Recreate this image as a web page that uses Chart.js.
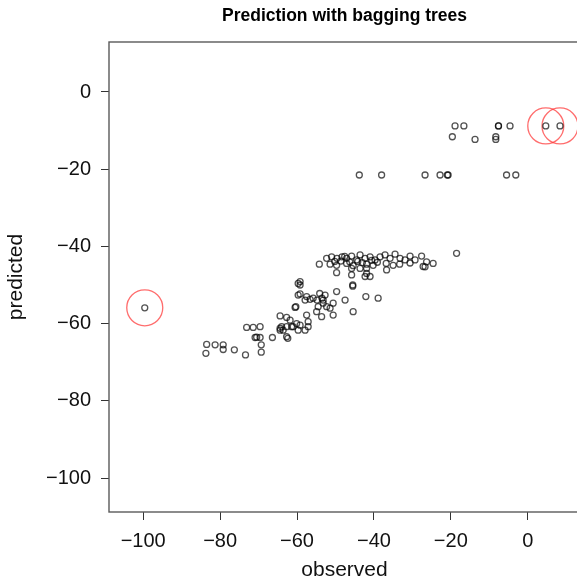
<!DOCTYPE html>
<html>
<head>
<meta charset="utf-8">
<script src="https://cdn.jsdelivr.net/npm/chart.js@4"></script>
<style>
  html, body { margin: 0; padding: 0; background: #fff; overflow: hidden; }
  #grafico { display: block; }
</style>
</head>
<body>
<canvas id="grafico" width="580" height="583"></canvas>
<script>
const observed = [
  -99.6,
  -83.5, -83.7, -81.3, -79.2, -79.2, -76.3, -73.4, -73.1, -71.4, -69.6, -70.9, -69.6, -70.5, -69.3, -69.3,
  -66.4, -64.4, -62.7, -64.0, -62.7, -61.4, -62.4, -64.4, -60.5, -59.7, -59.7, -61.0, -59.7,
  -59.2, -59.2, -59.2, -60.3, -57.9, -56.6, -54.8, -53.5, -52.7, -53.2, -54.5, -54.9, -53.6,
  -57.5, -57.1, -57.1, -57.9, -59.2, -60.1, -61.8, -64.4, -63.6, -62.7,
  -57.5, -55.8, -54.1, -53.2, -52.3, -50.6, -49.7, -47.5, -51.4, -50.6,
  -54.2, -52.3, -51.0, -49.6, -48.3, -47.1, -45.8, -44.5, -43.6, -42.3, -41.0, -39.7, -38.4, -37.1,
  -35.8, -34.5, -33.2, -31.9, -30.6, -29.3, -27.6, -26.3, -24.6,
  -51.4, -49.7, -47.1, -45.4, -41.9, -40.2, -36.8, -35.0, -33.3, -30.6, -27.2,
  -48.6, -46.3, -44.2, -43.0, -40.6, -39.1, -47.6, -50.2,
  -49.7, -45.8, -45.8, -43.6, -41.9, -41.9, -36.7, -42.3, -41.0, -26.7,
  -45.5, -45.5, -42.1, -38.9, -45.4, -18.5,
  -43.8, -38.0, -26.7, -22.8, -20.9, -20.7, -5.5, -3.1,
  -18.9, -16.6, -19.6, -13.7, -7.6, -7.6, -4.6, -8.3, -8.3, 4.7, 8.4
];
const predicted = [
  -55.9,
  -65.4, -67.7, -65.5, -65.5, -66.7, -66.8, -68.1, -61.0, -61.0, -60.8, -63.6, -63.6, -63.5, -65.5, -67.4,
  -63.6, -58.0, -58.4, -60.8, -60.8, -60.8, -63.8, -61.7, -55.8, -49.6, -52.6, -60.8, -61.7,
  -49.1, -50.0, -52.3, -55.6, -53.9, -53.7, -53.9, -53.4, -52.6, -54.7, -55.6, -56.9, -58.2,
  -57.8, -59.5, -60.8, -61.7, -60.4, -60.0, -59.1, -61.2, -61.7, -63.4,
  -53.0, -53.4, -52.2, -53.9, -55.6, -54.7, -51.7, -53.9, -56.0, -57.8,
  -44.6, -43.1, -42.7, -43.1, -42.7, -43.1, -42.5, -43.5, -42.2, -43.1, -42.7, -43.5, -42.7, -42.2,
  -43.1, -42.0, -43.1, -43.5, -42.5, -43.5, -42.5, -44.0, -44.4,
  -44.6, -44.9, -44.4, -45.0, -44.6, -44.9, -44.4, -44.9, -44.6, -44.3, -45.2,
  -43.8, -44.0, -43.9, -44.2, -43.6, -44.1, -42.6, -43.9,
  -46.8, -45.7, -47.4, -45.7, -45.7, -47.0, -46.1, -47.8, -47.8, -45.3,
  -50.0, -50.3, -53.0, -53.4, -56.9, -41.8,
  -21.5, -21.5, -21.5, -21.5, -21.5, -21.5, -21.5, -21.5,
  -8.8, -8.8, -11.6, -12.3, -8.8, -8.8, -8.8, -11.6, -12.3, -8.8, -8.8
];
// Pontos destacados em vermelho
const destaqueX = [-99.6, 4.7, 8.4];
const destaqueY = [-55.9, -8.8, -8.8];

const xTicks = [-100, -80, -60, -40, -20, 0];
const yTicks = [0, -20, -40, -60, -80, -100];

const fonte = "'Liberation Sans', Arial, Helvetica, sans-serif";
const menos = v => (v < 0 ? '\u2212' + Math.abs(v) : String(v));

// Moldura do painel
const moldura = {
  id: 'moldura',
  afterDraw(chart) {
    const { ctx, chartArea: a } = chart;
    ctx.save();
    ctx.strokeStyle = '#5a5a5a';
    ctx.lineWidth = 1.4;
    ctx.strokeRect(a.left, a.top, a.right - a.left, a.bottom - a.top);
    ctx.restore();
  }
};

const ctx = document.getElementById('grafico');
new Chart(ctx, {
  type: 'scatter',
  data: {
    datasets: [{
      label: 'dados',
      data: observed.map((x, i) => ({ x: x, y: predicted[i] })),
      pointStyle: 'circle',
      pointRadius: 3,
      borderWidth: 1.3,
      borderColor: 'rgba(0,0,0,0.68)',
      backgroundColor: 'rgba(0,0,0,0)'
    }, {
      label: 'destaque',
      data: destaqueX.map((x, i) => ({ x: x, y: destaqueY[i] })),
      pointStyle: 'circle',
      pointRadius: 18,
      borderWidth: 1.3,
      borderColor: 'rgba(255,60,60,0.75)',
      backgroundColor: 'rgba(0,0,0,0)'
    }]
  },
  options: {
    responsive: false,
    animation: false,
    events: [],
    layout: { padding: 0, autoPadding: false },
    plugins: {
      legend: { display: false },
      tooltip: { enabled: false },
      title: {
        display: true,
        fullSize: false,
        text: 'Prediction with bagging trees',
        color: '#000',
        font: { family: fonte, size: 17.5, weight: 'bold' },
        padding: { top: 6, bottom: 15 }
      }
    },
    scales: {
      x: {
        type: 'linear',
        min: -108.9,
        max: 13.6,
        afterBuildTicks: s => { s.ticks = xTicks.map(v => ({ value: v })); },
        afterFit: s => { s.height = 71; s.paddingLeft = 0; s.paddingRight = 0; },
        grid: { drawOnChartArea: false, drawTicks: true, tickLength: 8, tickColor: '#333', tickWidth: 1 },
        border: { display: false },
        ticks: {
          color: '#111',
          padding: 9,
          maxRotation: 0,
          font: { family: fonte, size: 20 },
          callback: v => menos(v)
        },
        title: {
          display: true,
          text: 'observed',
          color: '#111',
          font: { family: fonte, size: 21 },
          padding: { top: 0, bottom: 0 }
        }
      },
      y: {
        type: 'linear',
        min: -108.8,
        max: 12.95,
        afterBuildTicks: s => { s.ticks = yTicks.map(v => ({ value: v })); },
        afterFit: s => { s.width = 109; },
        grid: { drawOnChartArea: false, drawTicks: true, tickLength: 8, tickColor: '#333', tickWidth: 1 },
        border: { display: false },
        ticks: {
          color: '#111',
          padding: 10,
          font: { family: fonte, size: 20 },
          callback: v => menos(v)
        },
        title: {
          display: true,
          text: 'predicted',
          color: '#111',
          font: { family: fonte, size: 21 },
          padding: { top: 4, bottom: 0 }
        }
      }
    }
  },
  plugins: [moldura]
});
</script>
</body>
</html>
